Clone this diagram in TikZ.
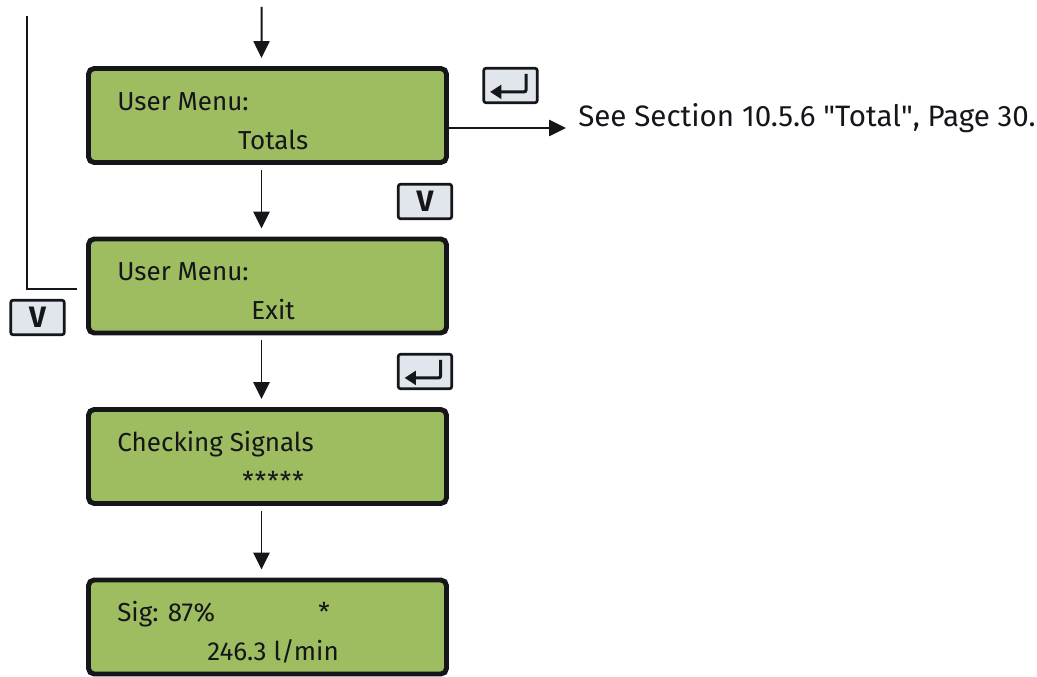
\documentclass[tikz,border=0pt]{standalone}
\usepackage{fontspec}
\setmainfont{Fira Sans}
\usepackage{xcolor}
\usepackage{tikz}
\usetikzlibrary{positioning,arrows.meta,calc}
\definecolor{lcdgreen}{RGB}{158,188,96}
\definecolor{keygrey}{RGB}{225,229,236}
\definecolor{inkblack}{RGB}{20,22,26}

\begin{document}
\begin{tikzpicture}[
    font=\fontsize{18.5}{22}\selectfont,
    lcd/.style={draw=inkblack, line width=3.5pt, fill=lcdgreen, rounded corners=4pt, minimum width=8.95cm, minimum height=2.35cm, inner sep=0pt},
    lcdtext/.style={inner sep=0pt, text=inkblack},
    keybox/.style={draw=inkblack, line width=1.9pt, fill=keygrey, rounded corners=1.5pt, minimum width=1.335cm, minimum height=0.86cm, inner sep=0pt},
    downkey/.style={keybox, text=inkblack, font=\fontsize{21}{24}\selectfont\bfseries},
    enterkey/.style={keybox, path picture={\draw[inkblack, line width=2.2pt, -{Triangle[length=2.8mm,width=3.4mm]}] ($(path picture bounding box.center)+(0.39,0.29)$) |- ($(path picture bounding box.center)+(-0.51,-0.16)$);}},
    flow/.style={-{Triangle[length=4.2mm,width=4mm]}, line width=1.4pt, inkblack},
    backline/.style={line width=1.1pt, inkblack},
  ]
  \useasboundingbox (0,0) rectangle (25.925,-16.925);
  \node[lcd] (totals) at (6.6875,-2.8875) {};
  \node[lcd] (exit) at (6.6875,-7.15) {};
  \node[lcd] (checking) at (6.6875,-11.4125) {};
  \node[lcd] (signal) at (6.6875,-15.675) {};
  \node[lcdtext,anchor=base west] (totalsA) at ($(totals.north west)+(0.775,-1.1)$) {User Menu:};
  \node[lcdtext,anchor=base] (totalsB) at ($(totals.north)+(0.14,-2.075)$) {Totals};
  \node[lcdtext,anchor=base west] (exitA) at ($(exit.north west)+(0.775,-1.1)$) {User Menu:};
  \node[lcdtext,anchor=base] (exitB) at ($(exit.north)+(0.14,-2.075)$) {Exit};
  \node[lcdtext,anchor=base west] (checkingA) at ($(checking.north west)+(0.775,-1.1)$) {Checking Signals};
  \node[lcdtext,anchor=base] (checkingB) at ($(checking.north)+(0.14,-2.075)$) {*\kern0.8pt*\kern0.8pt*\kern0.8pt*\kern0.8pt*};
  \node[lcdtext,anchor=base west] (signalA) at ($(signal.north west)+(0.775,-1.1)$) {Sig: 87\%};
  \node[lcdtext,anchor=base] (signalStar) at ($(signal.north west)+(5.95,-1.1)$) {*};
  \node[lcdtext,anchor=base] (signalB) at ($(signal.north)+(0.14,-2.075)$) {246.3 l/min};
  \node[enterkey] (enterA) at (12.7625,-2.1375) {};
  \node[downkey] (downR) at (10.625,-5.0375) {V};
  \node[downkey] (downL) at (0.9375,-7.9375) {V};
  \node[enterkey] (enterB) at (10.625,-9.2875) {};
  \node[lcdtext,anchor=base west,font=\fontsize{21}{24}\selectfont] (seeRef) at (14.45,-3.175) {See Section 10.5.6 \textquotedbl Total\textquotedbl, Page 30.};
  \coordinate (entry) at (6.54,-0.175);
  \coordinate (loopTop) at (0.675,-0.4);
  \draw[flow] (entry) -- ([xshift=-1.5mm,yshift=2mm]totals.north);
  \draw[flow] ([xshift=-1.5mm,yshift=-1.25mm]totals.south) -- ([xshift=-1.5mm,yshift=2mm]exit.north);
  \draw[flow] ([xshift=-1.5mm,yshift=-1.25mm]exit.south) -- ([xshift=-1.5mm,yshift=2mm]checking.north);
  \draw[flow] ([xshift=-1.5mm,yshift=-1.25mm]checking.south) -- ([xshift=-1.5mm,yshift=2mm]signal.north);
  \draw[flow,shorten >=3mm] ([yshift=-3.125mm]totals.east) -- ([yshift=-3.125mm]totals.east -| seeRef.west);
  \draw[backline] (loopTop) |- ([xshift=-2.25mm,yshift=-0.75mm]exit.west);
  \end{tikzpicture}
\end{document}
